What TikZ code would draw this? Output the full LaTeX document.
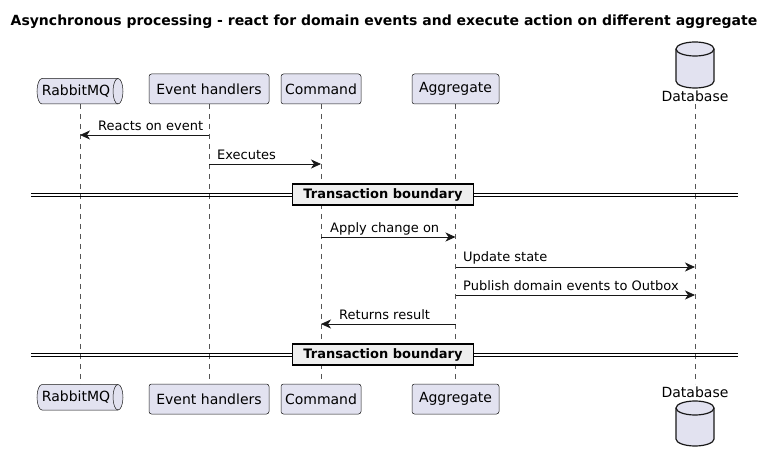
\documentclass[tikz,border=0pt]{standalone}
\usepackage{fontspec}
\setmainfont{DejaVu Sans}
\usetikzlibrary{arrows.meta,calc}
\definecolor{part}{HTML}{E2E2F0}
\definecolor{ink}{HTML}{181818}
\definecolor{divfill}{HTML}{EEEEEE}
\definecolor{lifec}{HTML}{555555}
\begin{document}
\begin{tikzpicture}[x=1pt,y=-1pt,
 pbox/.style={draw=ink, fill=part, rounded corners=2.5pt, line width=0.5pt, minimum height=30pt, inner sep=0pt, font=\fontsize{14}{16}\selectfont},
 ptext/.style={inner sep=0pt, font=\fontsize{14}{16}\selectfont},
 shapeline/.style={draw=ink, fill=part, line width=0.5pt},
 dbline/.style={draw=ink, fill=part, line width=1.2pt},
 msg/.style={draw=ink, line width=0.8pt, -{Stealth[length=10pt,width=9pt,inset=3pt]}},
 mlabel/.style={anchor=base west, font=\fontsize{13}{15}\selectfont, inner sep=0pt},
 life/.style={draw=lifec, dash pattern=on 5pt off 5pt, line width=0.5pt},
 divbox/.style={draw=black, fill=divfill, line width=1.5pt, font=\bfseries\fontsize{13}{15}\selectfont, minimum height=21pt, minimum width=181pt, inner sep=0pt},
 divline/.style={draw=black, line width=1pt}
]
\useasboundingbox (0,0) rectangle (774,462);
\fill[white] (0,0) rectangle (774,462);

% title
\node[anchor=base, font=\bfseries\fontsize{14}{16}\selectfont, inner sep=0pt] (title) at (384,26) {Asynchronous processing - react for domain events and execute action on different aggregate};

% lifelines
\coordinate (rqT) at (80,104); \coordinate (rqB) at (80,384);
\coordinate (ehT) at (209,104); \coordinate (ehB) at (209,384);
\coordinate (cmT) at (321,104); \coordinate (cmB) at (321,384);
\coordinate (agT) at (455.5,104); \coordinate (agB) at (455.5,384);
\coordinate (dbT) at (695,104); \coordinate (dbB) at (695,384);
\draw[life] (rqT) -- (rqB);
\draw[life] (ehT) -- (ehB);
\draw[life] (cmT) -- (cmB);
\draw[life] (agT) -- (agB);
\draw[life] (dbT) -- (dbB);

% top participants
\path[shapeline] (42,78.5) -- (118,78.5) arc[start angle=90, end angle=-90, x radius=5pt, y radius=12.75pt] -- (42,104) arc[start angle=270, end angle=90, x radius=5pt, y radius=12.75pt] -- cycle;
\draw[draw=ink, line width=0.5pt] (118,78.5) arc[start angle=90, end angle=270, x radius=5pt, y radius=12.75pt];
\node[ptext] (rq) at (76,91.5) {RabbitMQ};
\node[pbox, minimum width=120pt] (eh) at (209,89) {Event handlers};
\node[pbox, minimum width=80pt] (cm) at (321,89) {Command};
\node[pbox, minimum width=87pt] (ag) at (455.5,89) {Aggregate};
\path[dbline] (676,49) -- (676,81) arc[start angle=180, end angle=360, x radius=19pt, y radius=7pt] -- (714,49) arc[start angle=0, end angle=180, x radius=19pt, y radius=7pt] -- cycle;
\draw[draw=ink, line width=1.2pt] (676,49) arc[start angle=180, end angle=360, x radius=19pt, y radius=7pt];
\node[ptext] (db) at (695,96) {Database};

% bottom participants
\path[shapeline] (42,384.5) -- (118,384.5) arc[start angle=90, end angle=-90, x radius=5pt, y radius=12.75pt] -- (42,410) arc[start angle=270, end angle=90, x radius=5pt, y radius=12.75pt] -- cycle;
\draw[draw=ink, line width=0.5pt] (118,384.5) arc[start angle=90, end angle=270, x radius=5pt, y radius=12.75pt];
\node[ptext] (rq2) at (76,397.5) {RabbitMQ};
\node[pbox, minimum width=120pt] (eh2) at (209,399) {Event handlers};
\node[pbox, minimum width=80pt] (cm2) at (321,399) {Command};
\node[pbox, minimum width=87pt] (ag2) at (455.5,399) {Aggregate};
\node[ptext] (db2) at (695,392) {Database};
\path[dbline] (676,408) -- (676,439) arc[start angle=180, end angle=360, x radius=19pt, y radius=7pt] -- (714,408) arc[start angle=0, end angle=180, x radius=19pt, y radius=7pt] -- cycle;
\draw[draw=ink, line width=1.2pt] (676,408) arc[start angle=180, end angle=360, x radius=19pt, y radius=7pt];

% messages
\coordinate (m1a) at (209,135); \coordinate (m1b) at (80,135);
\draw[msg] (m1a) -- (m1b);
\node[mlabel] (l1) at (98,131) {Reacts on event};
\coordinate (m2a) at (209,164); \coordinate (m2b) at (321,164);
\draw[msg] (m2a) -- (m2b);
\node[mlabel] (l2) at (217,160) {Executes};

% divider 1
\coordinate (d1l) at (31,193.5); \coordinate (d1r) at (738,193.5);
\coordinate (d1l2) at (31,196.5); \coordinate (d1r2) at (738,196.5);
\draw[divline] (d1l) -- (d1r);
\draw[divline] (d1l2) -- (d1r2);
\node[divbox] (tb1) at (383,194.5) {Transaction boundary};

\coordinate (m3a) at (321,237); \coordinate (m3b) at (455.5,237);
\draw[msg] (m3a) -- (m3b);
\node[mlabel] (l3) at (330,233) {Apply change on};
\coordinate (m4a) at (455.5,267); \coordinate (m4b) at (695,267);
\draw[msg] (m4a) -- (m4b);
\node[mlabel] (l4) at (463,262) {Update state};
\coordinate (m5a) at (455.5,295); \coordinate (m5b) at (695,295);
\draw[msg] (m5a) -- (m5b);
\node[mlabel] (l5) at (463,291) {Publish domain events to Outbox};
\coordinate (m6a) at (455.5,324); \coordinate (m6b) at (321,324);
\draw[msg] (m6a) -- (m6b);
\node[mlabel] (l6) at (339,320) {Returns result};

% divider 2
\coordinate (d2l) at (31,353.5); \coordinate (d2r) at (738,353.5);
\coordinate (d2l2) at (31,356.5); \coordinate (d2r2) at (738,356.5);
\draw[divline] (d2l) -- (d2r);
\draw[divline] (d2l2) -- (d2r2);
\node[divbox] (tb2) at (383,354.5) {Transaction boundary};
\end{tikzpicture}
\end{document}
